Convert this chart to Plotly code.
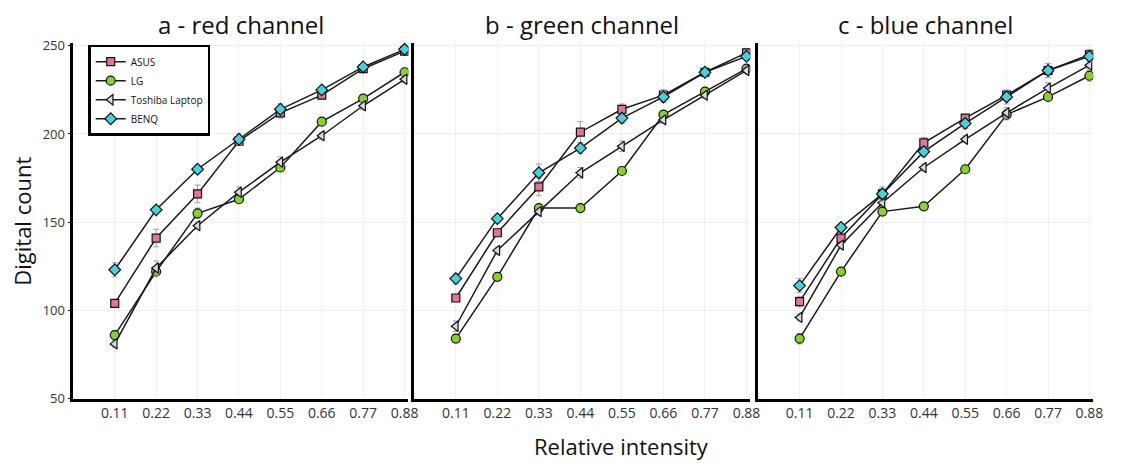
import plotly.graph_objects as go
from plotly.subplots import make_subplots

intensity = [0.11, 0.22, 0.33, 0.44, 0.55, 0.66, 0.77, 0.88]
tick_labels = ["0.11", "0.22", "0.33", "0.44", "0.55", "0.66", "0.77", "0.88"]
panel_titles = ["a - red channel", "b - green channel", "c - blue channel"]
devices = ["ASUS", "LG", "Toshiba Laptop", "BENQ"]

# red channel
red_asus = [104, 141, 166, 196, 212, 222, 237, 247]
red_lg = [86, 122, 155, 163, 181, 207, 220, 235]
red_toshiba = [81, 124, 148, 167, 184, 199, 216, 231]
red_benq = [123, 157, 180, 197, 214, 225, 238, 248]
# green channel
green_asus = [107, 144, 170, 201, 214, 222, 235, 246]
green_lg = [84, 119, 158, 158, 179, 211, 224, 237]
green_toshiba = [91, 134, 156, 178, 193, 208, 222, 236]
green_benq = [118, 152, 178, 192, 209, 221, 235, 244]
# blue channel
blue_asus = [105, 141, 166, 195, 209, 222, 236, 245]
blue_lg = [84, 122, 156, 159, 180, 211, 221, 233]
blue_toshiba = [96, 137, 161, 181, 197, 212, 226, 239]
blue_benq = [114, 147, 166, 190, 206, 221, 236, 244]

# error (std) estimates
red_asus_err = [2, 5, 5, 2, 3, 2, 2, 2]
red_lg_err = [2, 2, 3, 2, 2, 2, 2, 2]
red_toshiba_err = [2, 4, 2, 3, 3, 2, 2, 2]
red_benq_err = [4, 2, 2, 3, 3, 2, 2, 2]
green_asus_err = [2, 2, 5, 6, 3, 3, 2, 2]
green_lg_err = [2, 2, 2, 2, 2, 2, 2, 2]
green_toshiba_err = [3, 2, 2, 3, 3, 2, 2, 2]
green_benq_err = [3, 2, 5, 3, 3, 3, 2, 2]
blue_asus_err = [3, 3, 3, 3, 2, 2, 2, 3]
blue_lg_err = [3, 2, 2, 2, 2, 3, 2, 3]
blue_toshiba_err = [2, 2, 2, 2, 2, 3, 3, 2]
blue_benq_err = [4, 2, 4, 3, 3, 4, 4, 3]

panels = [
    [red_asus, red_lg, red_toshiba, red_benq],
    [green_asus, green_lg, green_toshiba, green_benq],
    [blue_asus, blue_lg, blue_toshiba, blue_benq],
]
panel_errs = [
    [red_asus_err, red_lg_err, red_toshiba_err, red_benq_err],
    [green_asus_err, green_lg_err, green_toshiba_err, green_benq_err],
    [blue_asus_err, blue_lg_err, blue_toshiba_err, blue_benq_err],
]

styles = {
    "ASUS": dict(symbol="square", color="#E8709A", size=8),
    "LG": dict(symbol="circle", color="#86D41E", size=9),
    "Toshiba Laptop": dict(symbol="triangle-left", color="#DCD6EA", size=9),
    "BENQ": dict(symbol="diamond", color="#3CD6E0", size=9),
}

fig = make_subplots(rows=1, cols=3)
W, H = 1126, 470
x_doms = [(74, 412), (418, 757), (765, 1103)]
y_top, y_bot = 38, 405.5
font_family = "Open Sans, Liberation Sans, sans-serif"

for p in range(3):
    for d, name in enumerate(devices):
        st = styles[name]
        fig.add_trace(
            go.Scatter(
                x=intensity, y=panels[p][d], name=name, mode="lines+markers",
                legendgroup=name, showlegend=(p == 0),
                line=dict(color="#1a1a1a", width=1.5),
                marker=dict(symbol=st["symbol"], color=st["color"], size=st["size"],
                            line=dict(color="#111111", width=1.2)),
                error_y=dict(type="data", array=panel_errs[p][d], color="#a0a0a0",
                             thickness=1, width=3),
            ),
            row=1, col=p + 1,
        )

for p in range(3):
    xa = "xaxis" if p == 0 else f"xaxis{p+1}"
    ya = "yaxis" if p == 0 else f"yaxis{p+1}"
    x0, x1 = x_doms[p]
    fig.layout[xa].update(
        domain=[x0 / W, x1 / W], range=[0, 0.89],
        tickvals=intensity, ticktext=tick_labels,
        showline=True, linecolor="black", linewidth=2.5,
        showgrid=True, gridcolor="#efefef", gridwidth=1,
        zeroline=False, ticks="", tickfont=dict(size=14, color="#333333", family=font_family),
    )
    fig.layout[ya].update(
        domain=[1 - y_bot / H, 1 - y_top / H], range=[50, 251.7],
        tickvals=[50, 100, 150, 200, 250],
        showline=True, linecolor="black", linewidth=2.5,
        showgrid=True, gridcolor="#efefef", gridwidth=1,
        zeroline=False,
        showticklabels=(p == 0),
        ticks="outside" if p == 0 else "", ticklen=3, tickcolor="black",
        tickfont=dict(size=13, color="#333333", family=font_family),
    )
    fig.add_annotation(
        text=panel_titles[p], xref="paper", yref="paper",
        x=(x0 + x1) / 2 / W, y=1 - 19 / H, xanchor="center", yanchor="middle",
        showarrow=False, font=dict(size=24, color="#111111", family=font_family),
    )

fig.add_annotation(
    text="Digital count", xref="paper", yref="paper", x=22 / W, y=1 - 222 / H,
    textangle=-90, xanchor="center", yanchor="middle", showarrow=False,
    font=dict(size=22, color="#111111", family=font_family),
)
fig.add_annotation(
    text="Relative intensity", xref="paper", yref="paper", x=627 / W, y=1 - 455 / H,
    xanchor="center", yanchor="middle", showarrow=False,
    font=dict(size=22, color="#111111", family=font_family),
)

fig.update_layout(
    width=W, height=H,
    margin=dict(l=0, r=0, t=0, b=0),
    paper_bgcolor="white", plot_bgcolor="white",
    font=dict(family=font_family),
    legend=dict(
        x=89 / W, y=1 - 40 / H, xanchor="left", yanchor="top",
        bgcolor="white", bordercolor="black", borderwidth=2.5,
        font=dict(size=10, color="#111111", family=font_family),
        itemwidth=30, tracegroupgap=0,
    ),
)

fig.write_html("out.html")
